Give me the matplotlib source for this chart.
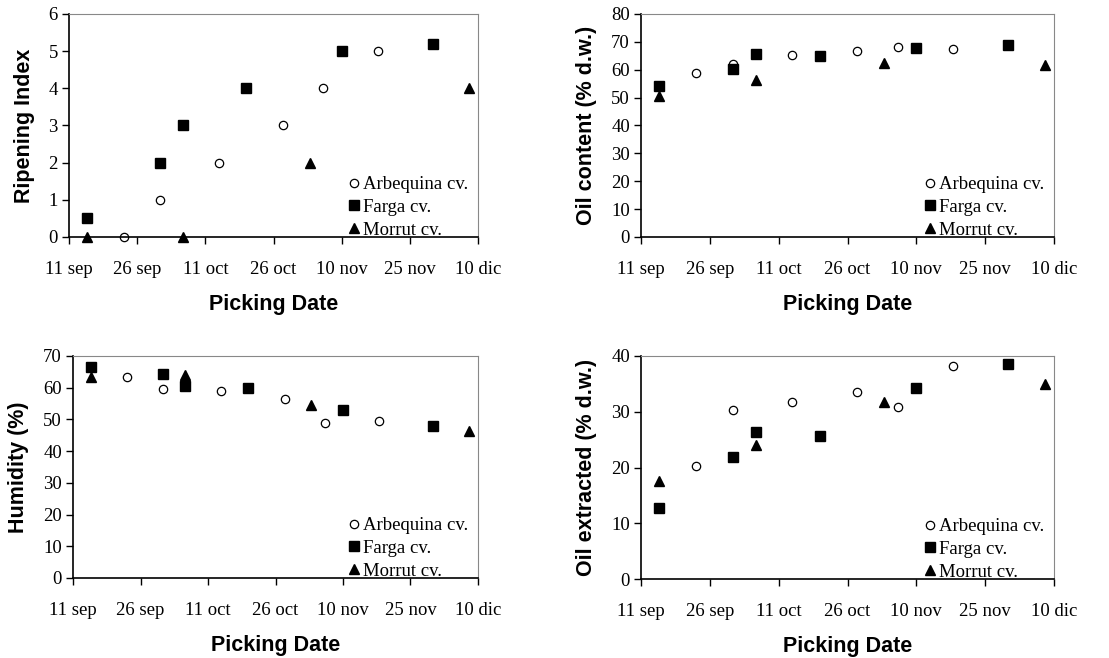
import matplotlib.pyplot as plt

W, H = 1109, 658

# picking dates as days after 11 sep
tick_days = [0, 15, 30, 45, 60, 75, 90]
tick_labels = ["11 sep", "26 sep", "11 oct", "26 oct", "10 nov", "25 nov", "10 dic"]

arbequina_days = [12, 20, 33, 47, 56, 68]
farga_days = [4, 20, 25, 39, 60, 80]
morrut_days = [4, 25, 53, 88]

ripening_arbequina = [0, 1, 2, 3, 4, 5]
ripening_farga = [0.5, 2, 3, 4, 5, 5.2]
ripening_morrut = [0, 0, 2, 4]

oil_arbequina = [58.9, 62.0, 65.2, 66.8, 68.3, 67.3]
oil_farga = [54.1, 60.4, 65.7, 65.0, 67.9, 68.9]
oil_morrut = [50.5, 56.2, 62.6, 61.6]

humidity_arbequina = [63.3, 59.5, 59.1, 56.3, 48.9, 49.4]
humidity_farga = [66.6, 64.2, 60.5, 60.0, 53.1, 48.0]
humidity_morrut = [63.3, 64.0, 54.6, 46.2]

extracted_arbequina = [20.3, 30.3, 31.7, 33.5, 30.9, 38.2]
extracted_farga = [12.7, 21.9, 26.4, 25.6, 34.3, 38.5]
extracted_morrut = [17.6, 24.1, 31.7, 34.9]

serif = "Liberation Serif"
sans = "Liberation Sans"

fig = plt.figure(figsize=(W / 100, H / 100), dpi=100)


def add_ax(left, top, right, bottom):
    return fig.add_axes([left / W, 1 - bottom / H, (right - left) / W, (bottom - top) / H])


def panel(ax, arb, far, mor, ylim, yticks, ylabel):
    ax.plot(arbequina_days, arb, "o", mfc="white", mec="black", mew=0.9, ms=6,
            label="Arbequina cv.", clip_on=False)
    ax.plot(farga_days, far, "s", color="black", ms=6.5, label="Farga cv.", clip_on=False)
    ax.plot(morrut_days, mor, "^", color="black", ms=6.5, label="Morrut cv.", clip_on=False)
    ax.set_xlim(0, 90)
    ax.set_ylim(*ylim)
    ax.set_yticks(yticks)
    ax.set_xticks(tick_days)
    ax.set_xticklabels(tick_labels)
    for lab in ax.get_xticklabels() + ax.get_yticklabels():
        lab.set_fontfamily(serif)
        lab.set_fontsize(13.5)
    ax.tick_params(axis="x", direction="out", length=5, width=1, pad=12)
    ax.tick_params(axis="y", direction="out", length=5, width=1, pad=3)
    for s in ["top", "right"]:
        ax.spines[s].set_color("#888888")
        ax.spines[s].set_linewidth(0.8)
    for s in ["left", "bottom"]:
        ax.spines[s].set_color("black")
        ax.spines[s].set_linewidth(1.2)
    ax.set_xlabel("Picking Date", fontfamily=sans, fontweight="bold", fontsize=15.5, labelpad=12)
    ax.set_ylabel(ylabel, fontfamily=sans, fontweight="bold", fontsize=15.5, labelpad=10)
    ax.legend(loc="lower right", frameon=False, prop={"family": serif, "size": 13.5},
              handletextpad=0.0, labelspacing=0.3, handlelength=1.0,
              borderaxespad=0.1, bbox_to_anchor=(1.0, -0.05))


ax1 = add_ax(69, 14, 478, 237)
panel(ax1, ripening_arbequina, ripening_farga, ripening_morrut, (0, 6), range(0, 7),
      "Ripening Index")

ax2 = add_ax(641, 14, 1054, 237)
panel(ax2, oil_arbequina, oil_farga, oil_morrut, (0, 80), range(0, 81, 10),
      "Oil content (% d.w.)")

ax3 = add_ax(73, 356, 478, 578)
panel(ax3, humidity_arbequina, humidity_farga, humidity_morrut, (0, 70), range(0, 71, 10),
      "Humidity (%)")

ax4 = add_ax(641, 356, 1054, 579)
panel(ax4, extracted_arbequina, extracted_farga, extracted_morrut, (0, 40), range(0, 41, 10),
      "Oil extracted (% d.w.)")

fig.savefig("out.png", dpi=100)
